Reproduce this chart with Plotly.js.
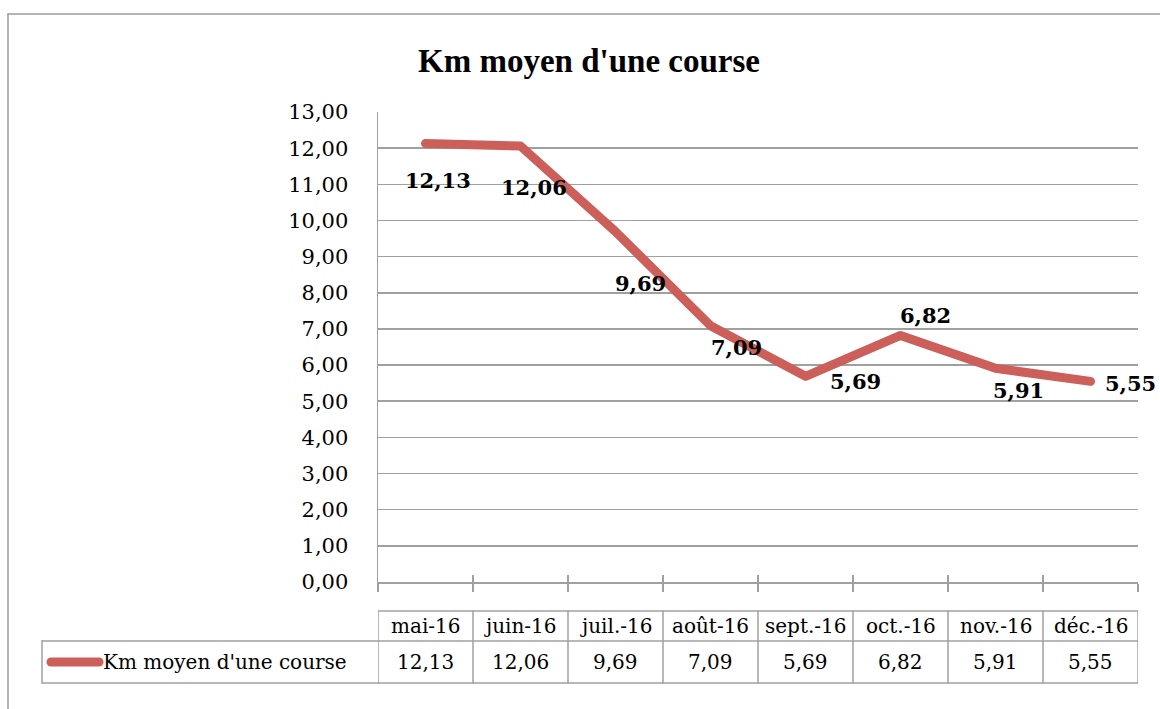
<!DOCTYPE html>
<html>
<head>
<meta charset="utf-8">
<script src="https://cdn.plot.ly/plotly-3.0.1.min.js"></script>
<style>
  html, body { margin: 0; padding: 0; background: #fff; }
  #chart { width: 1160px; height: 709px; }
  .scatterlayer path.js-line { stroke-linecap: round; stroke-linejoin: round; }
  .shapelayer path { stroke-linecap: round; }
</style>
</head>
<body>
<div id="chart"></div>
<script>
// ---- data ----
const categories = ["mai-16", "juin-16", "juil.-16", "août-16", "sept.-16", "oct.-16", "nov.-16", "déc.-16"];
const values = [12.13, 12.06, 9.69, 7.09, 5.69, 6.82, 5.91, 5.55];
const valueLabels = ["12,13", "12,06", "9,69", "7,09", "5,69", "6,82", "5,91", "5,55"];
const seriesName = "Km moyen d'une course";
const chartTitle = "Km moyen d'une course";

// ---- styling / positioning (not data) ----
const W = 1160, H = 709;
const L = 378, R = 1138, T = 112, B = 582;
const px = x => (x - L) / (R - L);
const py = y => (B - y) / (B - T);
const labelShift = [[12, -37], [13, -42], [25, -52], [26, -22], [50, -5], [25, 20], [23, -22], [40, -2]];
const red = "#CD5F5A";
const grid = "#a0a0a0";
const serif = "DejaVu Serif, serif";

const annotations = [];
categories.forEach((c, i) => {
  annotations.push({
    x: c, y: values[i], xref: "x", yref: "y",
    text: "<b>" + valueLabels[i] + "</b>", showarrow: false,
    xshift: labelShift[i][0], yshift: labelShift[i][1],
    font: { family: serif, size: 21, color: "#000" }
  });
  annotations.push({
    x: c, y: py(626), xref: "x", yref: "paper", yanchor: "middle",
    text: c, showarrow: false,
    font: { family: serif, size: 20, color: "#000" }
  });
  annotations.push({
    x: c, y: py(662), xref: "x", yref: "paper", yanchor: "middle",
    text: valueLabels[i], showarrow: false,
    font: { family: serif, size: 20, color: "#000" }
  });
});
annotations.push({
  x: px(101), y: py(662), xref: "paper", yref: "paper", xanchor: "left", yanchor: "middle",
  text: seriesName, showarrow: false,
  font: { family: serif, size: 20, color: "#000" }
});

const shapes = [];
const tl = { color: grid, width: 1.5 };
for (let i = 0; i <= categories.length; i++) {
  shapes.push({ type: "line", xref: "x", yref: "paper", x0: i - 0.5, x1: i - 0.5, y0: py(611), y1: py(683), line: tl });
}
[611, 641, 683].forEach(yy => {
  shapes.push({ type: "line", xref: "x", yref: "paper", x0: -0.5, x1: categories.length - 0.5, y0: py(yy), y1: py(yy), line: tl });
});
shapes.push({ type: "line", xref: "paper", yref: "paper", x0: px(42), x1: px(378), y0: py(641), y1: py(641), line: tl });
shapes.push({ type: "line", xref: "paper", yref: "paper", x0: px(42), x1: px(378), y0: py(683), y1: py(683), line: tl });
shapes.push({ type: "line", xref: "paper", yref: "paper", x0: px(42), x1: px(42), y0: py(641), y1: py(683), line: tl });
shapes.push({ type: "line", xref: "paper", yref: "paper", x0: px(51), x1: px(99), y0: py(662), y1: py(662), line: { color: red, width: 9 } });
shapes.push({ type: "line", xref: "paper", yref: "paper", x0: px(8), x1: px(1165), y0: py(14), y1: py(14), line: { color: "#9a9a9a", width: 1.5 } });
shapes.push({ type: "line", xref: "paper", yref: "paper", x0: px(8), x1: px(8), y0: py(14), y1: py(715), line: { color: "#9a9a9a", width: 1.5 } });

const traces = [
  {
    type: "scatter", mode: "lines", x: categories, y: values, name: seriesName,
    line: { color: red, width: 9 }, hoverinfo: "skip", cliponaxis: false
  },
  {
    type: "scatter", mode: "lines", x: categories, y: values, xaxis: "x2",
    line: { width: 0 }, opacity: 0, showlegend: false, hoverinfo: "skip"
  }
];

const layout = {
  width: W, height: H,
  margin: { l: L, r: W - R, t: T, b: H - B, pad: 0 },
  paper_bgcolor: "#fff", plot_bgcolor: "#fff",
  showlegend: false,
  separators: ", ",
  title: {
    text: "<b>" + chartTitle + "</b>",
    xref: "container", yref: "container", x: 589 / W, y: 1 - 60 / H,
    xanchor: "center", yanchor: "middle",
    font: { family: "Liberation Serif, Times New Roman, serif", size: 33, color: "#000" }
  },
  xaxis: {
    type: "category", categoryorder: "array", categoryarray: categories,
    range: [-0.5, categories.length - 0.5],
    showgrid: false, zeroline: false, showticklabels: false,
    showline: true, linecolor: grid, linewidth: 1.5,
    ticks: "outside", tickson: "boundaries", ticklen: 8, tickcolor: grid, tickwidth: 1.5
  },
  xaxis2: {
    type: "category", categoryorder: "array", categoryarray: categories,
    overlaying: "x", anchor: "y", side: "bottom",
    range: [-0.5, categories.length - 0.5],
    showgrid: false, zeroline: false, showticklabels: false, showline: false,
    ticks: "inside", tickson: "boundaries", ticklen: 7, tickcolor: grid, tickwidth: 1.5
  },
  yaxis: {
    range: [0, 13], dtick: 1, tick0: 0, tickformat: ".2f",
    showgrid: true, gridcolor: grid, gridwidth: 1.5, zeroline: false,
    showline: true, linecolor: grid, linewidth: 1.5,
    ticks: "", ticklabelstandoff: 24,
    tickfont: { family: serif, size: 21, color: "#000" }
  },
  annotations: annotations,
  shapes: shapes
};

Plotly.newPlot("chart", traces, layout, { displayModeBar: false, staticPlot: true });
</script>
</body>
</html>
